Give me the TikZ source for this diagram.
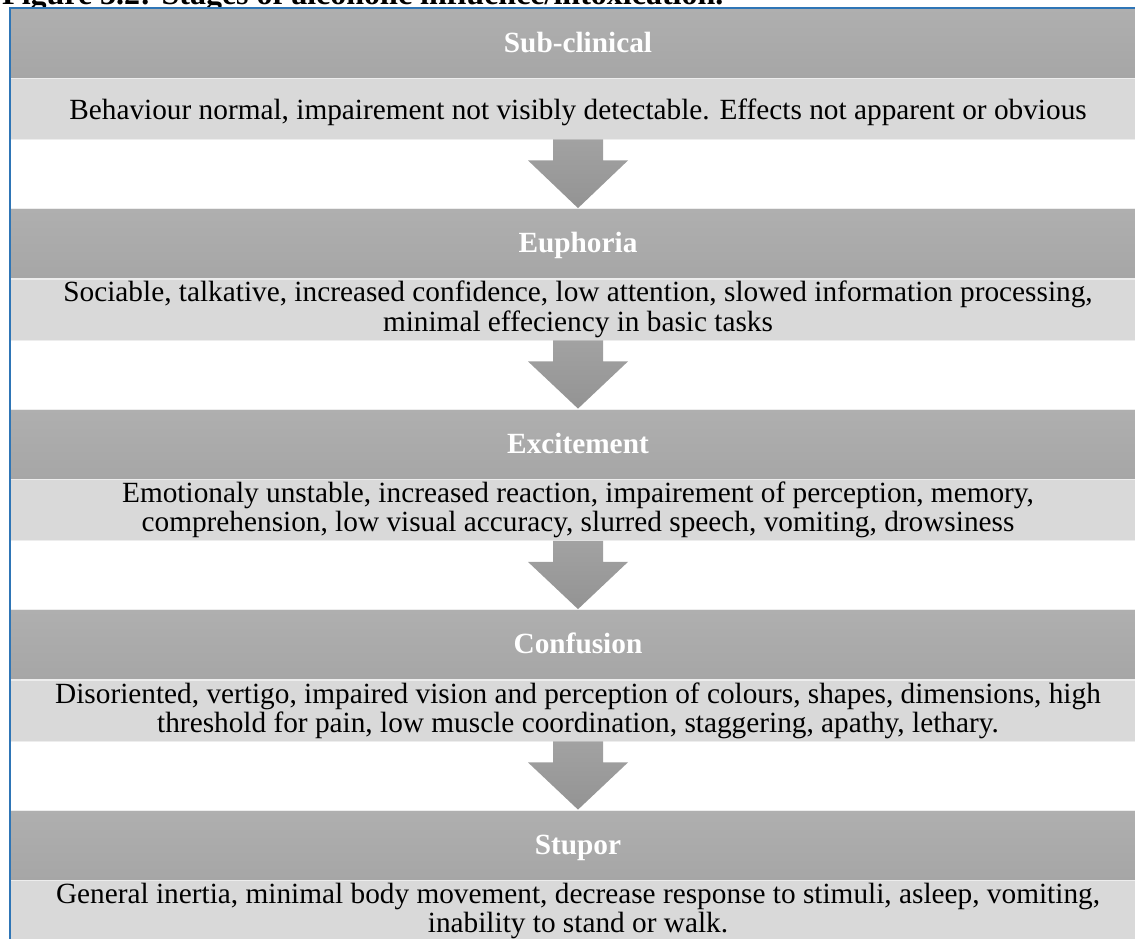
\documentclass[tikz,border=0pt]{standalone}
\usepackage{fontspec}
\setmainfont{Liberation Serif}
\usetikzlibrary{calc}
\definecolor{frameblue}{HTML}{2E75B6}
\definecolor{headtop}{HTML}{AFAFAF}
\definecolor{headbot}{HTML}{A6A6A6}
\definecolor{bodyfill}{HTML}{D9D9D9}
\definecolor{bandline}{HTML}{EDEDED}
\definecolor{arrowtop}{HTML}{A2A2A2}
\definecolor{arrowbot}{HTML}{939393}
\newcommand{\stagefont}{\fontsize{29.3}{29}\selectfont}
\begin{document}
\begin{tikzpicture}[x=1pt,y=-1pt,
  stagehead/.style={rectangle, minimum width=1136pt, minimum height=70pt,
    inner sep=0pt, top color=headtop, bottom color=headbot, draw=bandline,
    line width=0.8pt, font=\stagefont\bfseries, text=white,
    text height=18pt, text depth=0pt},
  stagebody/.style={rectangle, minimum width=1136pt, minimum height=61pt,
    inner sep=0pt, fill=bodyfill, draw=bandline, line width=0.8pt,
    font=\stagefont, align=center},
  twoline/.style={text height=47pt, text depth=8pt},
  stagearrow/.style={top color=arrowtop, bottom color=arrowbot}]
\useasboundingbox (0,0) rectangle (1135,938);
\clip (0,0) rectangle (1135,938);

% caption above the chart
\node[anchor=base west, inner sep=0pt, font=\fontsize{32}{36}\selectfont\bfseries] (caption)
  at (2,4) {Figure 3.2: Stages of alcoholic influence/intoxication.};

% stage headers
\node[stagehead] (h1) at (578,43)    {Sub-clinical};
\node[stagehead] (h2) at (578,243.5) {Euphoria};
\node[stagehead] (h3) at (578,444)   {Excitement};
\node[stagehead] (h4) at (578,644.5) {Confusion};
\node[stagehead] (h5) at (578,845)   {Stupor};

% stage descriptions
\node[stagebody, text height=22pt, text depth=0pt] (b1) at (578,108.5)
  {Behaviour normal, impairement not visibly detectable. Effects not apparent or obvious};
\node[stagebody] (b2) at (578,309.5)
  {\strut Sociable, talkative, increased confidence, low attention, slowed information processing,\\
   minimal effeciency in basic tasks};
\node[stagebody] (b3) at (578,510)
  {Emotionaly unstable, increased reaction, impairement of perception, memory,\\
   comprehension, low visual accuracy, slurred speech, vomiting, drowsiness};
\node[stagebody] (b4) at (578,710.5)
  {Disoriented, vertigo, impaired vision and perception of colours, shapes, dimensions, high\\
   threshold for pain, low muscle coordination, staggering, apathy, lethary.};
\node[stagebody] (b5) at (578,910.5)
  {General inertia, minimal body movement, decrease response to stimuli, asleep, vomiting,\\
   inability to stand or walk.};

% block arrows between stages
\foreach \i/\j in {1/2,2/3,3/4,4/5}{
  \path[stagearrow] ($(b\i.south)+(-25,0)$) -- ($(b\i.south)+(25,0)$)
    -- ($(b\i.south)+(25,21)$) -- ($(b\i.south)+(50,21)$)
    -- (h\j.north)
    -- ($(b\i.south)+(-50,21)$) -- ($(b\i.south)+(-25,21)$) -- cycle;
}

% outer frame
\draw[frameblue, line width=1.6pt] (10,1000) -- (10,8) -- (1200,8);
\end{tikzpicture}
\end{document}
